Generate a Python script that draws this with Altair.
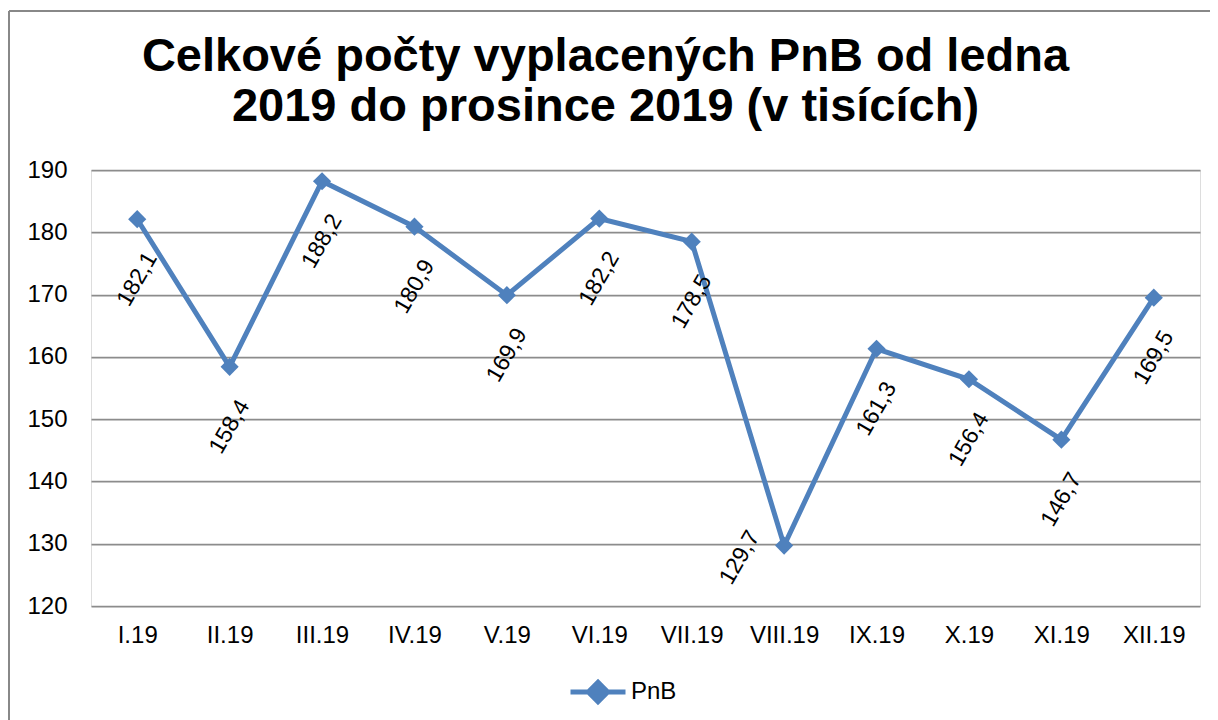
import altair as alt
import pandas as pd

months = ["I.19", "II.19", "III.19", "IV.19", "V.19", "VI.19",
          "VII.19", "VIII.19", "IX.19", "X.19", "XI.19", "XII.19"]
values = [182.1, 158.4, 188.2, 180.9, 169.9, 182.2, 178.5, 129.7, 161.3, 156.4, 146.7, 169.5]
series_name = "PnB"
y_ticks = [120, 130, 140, 150, 160, 170, 180, 190]
title_lines = ["Celkové počty vyplacených PnB od ledna", "2019 do prosince 2019 (v tisících)"]

df = pd.DataFrame({"month": months, "value": values, "series": series_name})
df["label"] = df["value"].map(lambda v: f"{v:.1f}".replace(".", ","))

FONT = "Liberation Sans"
BLUE = "#4F81BD"
W, H = 1109, 436

x_enc = alt.X("month:N", sort=months,
              scale=alt.Scale(type="point", padding=0.5),
              axis=alt.Axis(title=None, labelAngle=0, ticks=False, domain=False,
                            labelFontSize=24, labelFont=FONT, labelColor="black",
                            labelPadding=17, grid=False))
y_enc = alt.Y("value:Q", scale=alt.Scale(domain=[120, 190], nice=False, zero=False),
              axis=alt.Axis(title=None, values=y_ticks, ticks=False, domain=False,
                            labelFontSize=24, labelFont=FONT, labelColor="black",
                            labelPadding=24, grid=True, gridColor="#8c8c8c",
                            gridWidth=1.75))

base = alt.Chart(df)

line = base.mark_line(color=BLUE, strokeWidth=5).encode(x=x_enc, y=y_enc)

points = base.mark_point(shape="diamond", filled=True, size=330, opacity=1).encode(
    x=x_enc, y=y_enc,
    color=alt.Color("series:N", scale=alt.Scale(range=[BLUE]),
                    legend=alt.Legend(title=None, orient="none", legendX=477, legendY=492,
                                      symbolType="M-1,0H1M0,-0.35L0.35,0L0,0.35L-0.35,0Z",
                                      symbolSize=3025, symbolStrokeWidth=5,
                                      symbolStrokeColor=BLUE, symbolFillColor=BLUE,
                                      labelFontSize=24, labelFont=FONT, labelColor="black",
                                      labelOffset=3, padding=0)))

labels_below = base.transform_filter("datum.value >= 135").mark_text(
    angle=300, fontSize=23, font=FONT, color="black", align="center", baseline="middle",
    radius=60, theta=3.14159).encode(x=x_enc, y=y_enc, text="label:N")

labels_left = base.transform_filter("datum.value < 135").mark_text(
    angle=300, fontSize=23, font=FONT, color="black", align="center", baseline="middle",
    radius=46, theta=4.447).encode(x=x_enc, y=y_enc, text="label:N")

border_top = alt.Chart(df).mark_rule(color="#888888", strokeWidth=1.5).encode(
    x=alt.value(-82), x2=alt.value(1119), y=alt.value(-159))
border_left = alt.Chart(df).mark_rule(color="#888888", strokeWidth=1.5).encode(
    x=alt.value(-82), y=alt.value(-159), y2=alt.value(560))

chart = alt.layer(border_top, border_left, line, points, labels_below, labels_left).properties(
    width=W, height=H,
    autosize=alt.AutoSizeParams(type="none"),
    padding={"left": 83, "top": 162, "right": 10, "bottom": 114},
    title=alt.TitleParams(text=title_lines, fontSize=47, font=FONT, fontWeight="bold",
                          color="black", anchor="middle", dx=-40, lineHeight=50,
                          baseline="alphabetic", offset=-158),
).configure_view(stroke=None).configure(background="white")

chart.save("out.html", embed_options={"renderer": "svg", "actions": False})
